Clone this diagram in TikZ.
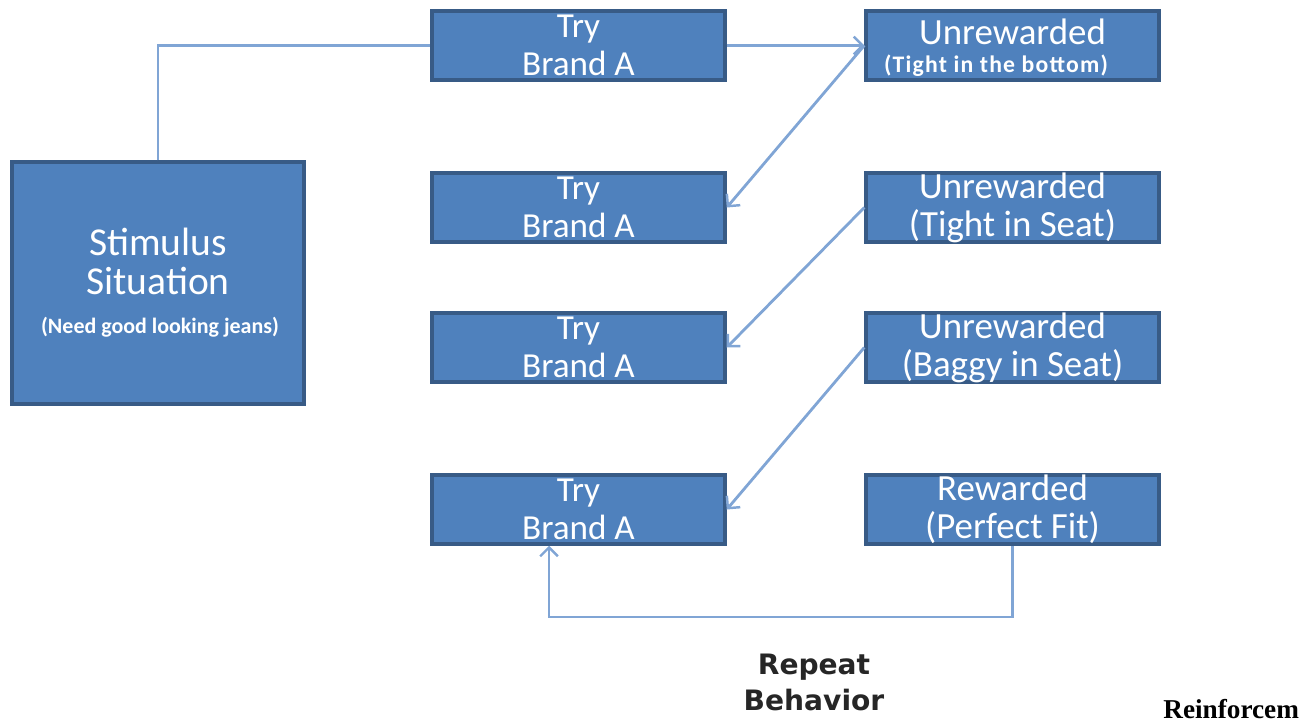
\documentclass[tikz,border=0pt]{standalone}
\usepackage{fontspec}
\setmainfont{Carlito}
\newfontfamily\dvfont{DejaVu Sans}
\newfontfamily\serfont{Liberation Serif}
\usetikzlibrary{arrows.meta}
\definecolor{boxfill}{HTML}{4F81BD}
\definecolor{boxline}{HTML}{385B86}
\definecolor{connc}{HTML}{80A5D5}
\tikzset{
  box/.style={draw=boxline, fill=boxfill, line width=2pt, inner sep=0pt,
              minimum width=5.86cm, minimum height=1.38cm},
  boxtext/.style={text=white, align=center, inner sep=0pt},
  conn/.style={draw=connc, line width=1.6pt},
  arr/.style={-{Straight Barb[length=5pt,width=10pt,line width=1.4pt]}},
}
\begin{document}
\begin{tikzpicture}[x=0.02cm,y=-0.02cm]
\useasboundingbox (0,0) rectangle (1312,723);
% Stimulus box
\node[box, minimum width=5.84cm, minimum height=4.84cm] (stim) at (158,283) {};
\node[boxtext, font=\fontsize{22.5}{22}\selectfont] (stimtxt1) at (158,242) {Stimulus};
\node[boxtext, font=\fontsize{22.5}{22}\selectfont] (stimtxt2) at (158,281) {Situation};
\node[boxtext, font=\fontsize{12.5}{15}\selectfont\bfseries] (stimtxt3) at (160,327) {(Need good looking jeans)};
% Try boxes
\foreach \n/\y in {1/45.5, 2/207.5, 3/347.5, 4/509.5}{
  \node[box] (try\n) at (578.5,\y) {};
  \node[boxtext, font=\fontsize{20}{21.5}\selectfont] (trytxt\n) at (578.5,\y) {Try\\Brand A};
}
% Right boxes
\node[box] (un1) at (1012.5,45.5) {};
\node[boxtext, font=\fontsize{21}{22}\selectfont] (un1txta) at (1012.5,32) {Unrewarded};
\node[boxtext, font=\fontsize{13.5}{16}\selectfont\bfseries\addfontfeature{LetterSpace=5}] (un1txtb) at (996,66) {(Tight in the bottom)};
\node[box] (un2) at (1012.5,207.5) {};
\node[boxtext, font=\fontsize{21}{21.5}\selectfont] (un2txt) at (1012.5,207.5) {Unrewarded\\(Tight in Seat)};
\node[box] (un3) at (1012.5,347.5) {};
\node[boxtext, font=\fontsize{21}{21.5}\selectfont] (un3txt) at (1012.5,347.5) {Unrewarded\\(Baggy in Seat)};
\node[box] (rew) at (1012.5,509.5) {};
\node[boxtext, font=\fontsize{21}{21.5}\selectfont] (rewtxt) at (1012.5,509.5) {Rewarded\\(Perfect Fit)};
% Connectors
\draw[conn] (stim.north) |- (try1.west);
\draw[conn, arr] (try1.east) -- (un1.west);
\draw[conn, arr] (un1.west) -- (try2.east);
\draw[conn, arr] (un2.west) -- (try3.east);
\draw[conn, arr] (un3.west) -- (try4.east);
\coordinate (ret) at (549,617);
\draw[conn, arr] (rew.south) |- (ret) -- (ret |- try4.south);
% Labels
\node[align=center, font=\dvfont\bfseries\fontsize{16}{20.5}\selectfont, text=black!85] (rep) at (814,682) {Repeat\\Behavior};
\node[anchor=base west, inner sep=0pt, font=\serfont\bfseries\fontsize{15.5}{18}\selectfont] (reinf) at (1163,718) {Reinforcem};
\end{tikzpicture}
\end{document}
